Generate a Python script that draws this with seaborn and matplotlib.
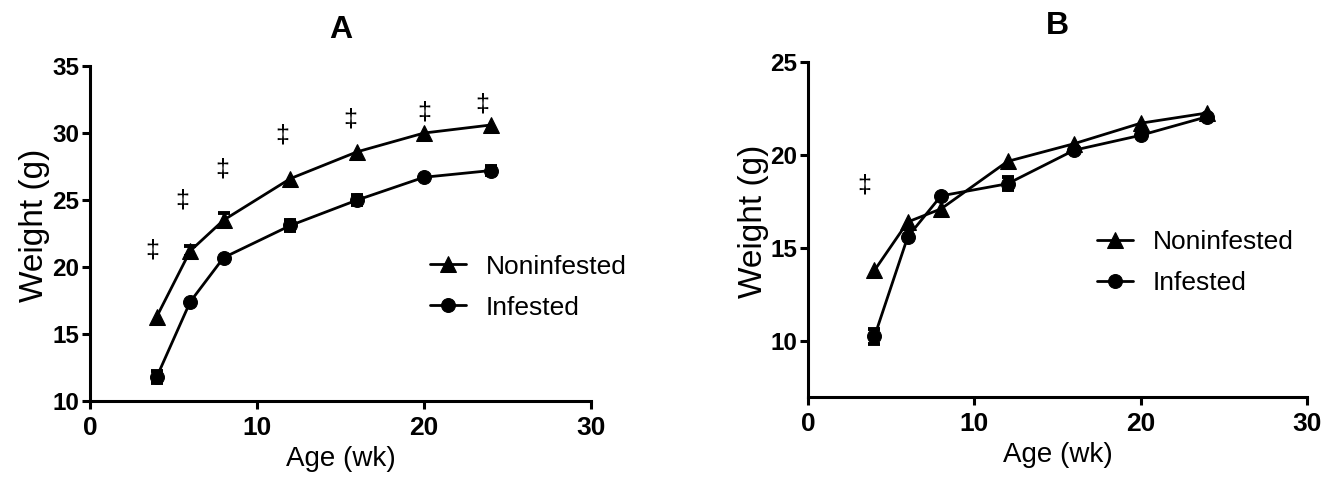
import numpy as np
import pandas as pd
import matplotlib
matplotlib.use("Agg")
import matplotlib.pyplot as plt
import seaborn as sns

# ages in weeks
age = [4, 6, 8, 12, 16, 20, 24]

# panel A (error 0 = bar hidden behind the marker)
a_noninf = [16.3, 21.2, 23.5, 26.6, 28.6, 30.0, 30.6]
a_noninf_err = [0, 0.4, 0.5, 0, 0, 0, 0]
a_inf = [11.8, 17.4, 20.7, 23.1, 25.0, 26.7, 27.2]
a_inf_err = [0.45, 0, 0, 0.4, 0.4, 0, 0.35]
a_sig_x = [3.7, 5.5, 7.9, 11.5, 15.6, 20.0, 23.5]
a_sig_y = [21.2, 25.0, 27.3, 29.8, 31.0, 31.5, 32.1]

# panel B
b_noninf = [13.8, 16.4, 17.1, 19.65, 20.6, 21.7, 22.25]
b_noninf_err = [0, 0, 0, 0, 0, 0, 0]
b_inf = [10.25, 15.6, 17.8, 18.45, 20.25, 21.05, 22.05]
b_inf_err = [0.4, 0, 0, 0.35, 0, 0, 0]
b_sig_x = [3.4]
b_sig_y = [18.35]

sns.set_style("ticks")
plt.rcParams['font.family'] = ['Liberation Sans', 'DejaVu Sans']
for key in ['text.color', 'axes.labelcolor', 'xtick.color', 'ytick.color', 'axes.edgecolor']:
    plt.rcParams[key] = 'black'


def draw_panel(ax, noninf, noninf_err, inf, inf_err, sig_x, sig_y, ylim, yticks, title, leg_anchor):
    df = pd.DataFrame({
        "age": age * 2,
        "weight": noninf + inf,
        "err": noninf_err + inf_err,
        "group": ["Noninfested"] * len(age) + ["Infested"] * len(age),
    })
    for grp, mk, ms in [("Noninfested", "^", 11), ("Infested", "o", 10)]:
        sub = df[df["group"] == grp]
        eb = sub[sub["err"] > 0]
        if len(eb):
            ax.errorbar(eb["age"], eb["weight"], yerr=eb["err"], fmt="none", ecolor="black",
                        elinewidth=2.5, capsize=4.5, capthick=2.8, zorder=2)
        sns.lineplot(data=sub, x="age", y="weight", ax=ax, color="black", marker=mk,
                     markersize=ms, markeredgecolor="black", linewidth=2, label=grp, zorder=3)

    for x, y in zip(sig_x, sig_y):
        ax.text(x, y, "\u2021", ha="center", va="center", fontsize=18)

    ax.set_xlim(0, 30)
    ax.set_ylim(*ylim)
    ax.set_xticks([0, 10, 20, 30])
    ax.set_yticks(yticks)
    sns.despine(ax=ax)
    for s in ["left", "bottom"]:
        ax.spines[s].set_linewidth(2.2)
    ax.tick_params(width=2.2, length=5.8)
    ax.tick_params(axis="y", pad=2, labelsize=17.5)
    ax.tick_params(axis="x", pad=5, labelsize=19)
    for lab in ax.get_xticklabels() + ax.get_yticklabels():
        lab.set_fontweight("bold")
    ax.set_xlabel("Age (wk)", fontsize=20)
    ax.set_ylabel("Weight (g)", fontsize=24)
    ax.xaxis.set_label_coords(0.5, -0.135)
    ax.yaxis.set_label_coords(-0.079, 0.524)
    ax.set_title(title, fontsize=23, fontweight="bold", pad=20)
    ax.legend(loc="center left", bbox_to_anchor=leg_anchor, frameon=False, fontsize=19,
              handlelength=1.35, handletextpad=0.75, labelspacing=0.65,
              borderpad=0, borderaxespad=0)


fig = plt.figure(figsize=(13.35, 4.82), dpi=100)
ax_a = fig.add_axes([0.0674, 0.168, 0.3753, 0.695])
ax_b = fig.add_axes([0.6052, 0.1763, 0.3738, 0.6956])

draw_panel(ax_a, a_noninf, a_noninf_err, a_inf, a_inf_err, a_sig_x, a_sig_y,
           (10, 35), [10, 15, 20, 25, 30, 35], "A", (0.679, 0.34))
draw_panel(ax_b, b_noninf, b_noninf_err, b_inf, b_inf_err, b_sig_x, b_sig_y,
           (7, 25), [10, 15, 20, 25], "B", (0.58, 0.40))

fig.savefig("out.png", dpi=100)
